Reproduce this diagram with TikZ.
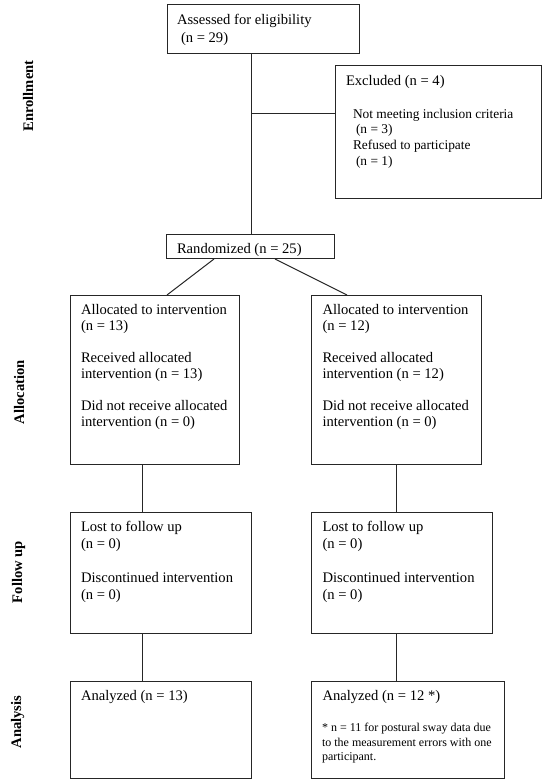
\documentclass[tikz,border=0pt]{standalone}
\usepackage{fontspec}
\setmainfont{Liberation Serif}
\begin{document}
\begin{tikzpicture}[x=1pt,y=-1pt,
  linec/.style={draw=black!85, line width=1pt},
  box/.style={linec, inner sep=0pt, outer sep=0pt, anchor=north west},
  conn/.style={linec},
  txt/.style={anchor=north west, inner sep=0pt, outer sep=0pt, align=left, text=black, font=\fontsize{14.6}{16}\selectfont},
  sub/.style={txt, font=\fontsize{13.4}{15.7}\selectfont},
  note/.style={txt, font=\fontsize{12}{14.5}\selectfont},
  phase/.style={rotate=90, anchor=base, inner sep=0pt, font=\fontsize{14.6}{16}\selectfont\bfseries}
]
\useasboundingbox (0,0) rectangle (550,783);

% boxes
\node[box, minimum width=192pt, minimum height=49pt] (assess) at (167,5) {};
\node[box, minimum width=206pt, minimum height=133pt] (excl) at (335,66) {};
\node[box, minimum width=168pt, minimum height=24pt] (rand) at (166,235) {};
\node[box, minimum width=169pt, minimum height=169pt] (allocL) at (70,295) {};
\node[box, minimum width=170pt, minimum height=169pt] (allocR) at (311.5,295) {};
\node[box, minimum width=181pt, minimum height=121pt] (fuL) at (70,512) {};
\node[box, minimum width=181pt, minimum height=121pt] (fuR) at (311.5,512) {};
\node[box, minimum width=181pt, minimum height=97pt] (anL) at (70,681) {};
\node[box, minimum width=193pt, minimum height=97pt] (anR) at (311.5,681) {};

% texts
\node[txt, font=\fontsize{14.6}{18}\selectfont] (tassess) at (177,14.5) {Assessed for eligibility\\\hspace*{4pt}(n = 29)};
\node[txt] (texcl) at (346,75.5) {Excluded (n = 4)};
\node[sub] (texcl2) at (353,108.8) {Not meeting inclusion criteria\\\hspace*{3pt}(n = 3)\\Refused to participate\\\hspace*{3pt}(n = 1)};
\node[txt] (trand) at (177,243) {Randomized (n = 25)};
\node[txt] (tallocL) at (81,304.5) {Allocated to intervention\\(n = 13)\\[16pt]Received allocated\\intervention (n = 13)\\[16pt]Did not receive allocated\\intervention (n = 0)};
\node[txt] (tallocR) at (322.5,304.5) {Allocated to intervention\\(n = 12)\\[16pt]Received allocated\\intervention (n = 12)\\[16pt]Did not receive allocated\\intervention (n = 0)};
\node[txt, font=\fontsize{14.6}{17}\selectfont] (tfuL) at (81,521.5) {Lost to follow up\\(n = 0)\\[17pt]Discontinued intervention\\(n = 0)};
\node[txt, font=\fontsize{14.6}{17}\selectfont] (tfuR) at (322.5,521.5) {Lost to follow up\\(n = 0)\\[17pt]Discontinued intervention\\(n = 0)};
\node[txt] (tanL) at (81,690.4) {Analyzed (n = 13)};
\node[txt] (tanR) at (322.5,690.4) {Analyzed (n = 12 *)};
\node[note] (tnote) at (322,723.3) {* n = 11 for postural sway data due\\to the measurement errors with one\\participant.};

% phase labels
\node[phase] (penr) at (33,96) {Enrollment};
\node[phase] (palloc) at (24,392) {Allocation};
\node[phase] (pfu) at (22,572) {Follow up};
\node[phase] (pan) at (21,722) {Analysis};

% connectors
\coordinate (ej) at ([xshift=1pt]rand.north |- 0,114);
\draw[conn] ([xshift=1pt]rand.north |- assess.south) -- ([xshift=1pt]rand.north);
\draw[conn] (ej) -- (ej -| excl.west);
\draw[conn] ([xshift=-36pt]rand.south) -- ([xshift=97pt]allocL.north west);
\draw[conn] ([xshift=25pt]rand.south) -- ([xshift=35.5pt]allocR.north west);
\draw[conn] ([xshift=72.5pt]allocL.south west) -- ([xshift=72.5pt]fuL.north west);
\draw[conn] ([xshift=85pt]allocR.south west) -- ([xshift=85pt]fuR.north west);
\draw[conn] ([xshift=72.5pt]fuL.south west) -- ([xshift=72.5pt]anL.north west);
\draw[conn] ([xshift=85pt]fuR.south west) -- ([xshift=85pt]anR.north west);
\end{tikzpicture}
\end{document}
